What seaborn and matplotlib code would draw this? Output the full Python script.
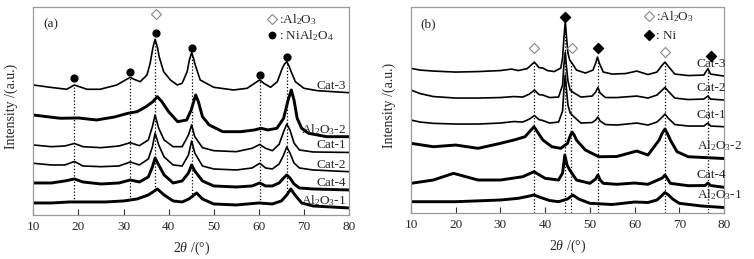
import numpy as np
import pandas as pd
import matplotlib
matplotlib.use("Agg")
import matplotlib.pyplot as plt
from matplotlib.lines import Line2D
import seaborn as sns

sns.set_theme(style="white")
plt.rcParams["font.family"] = ["Liberation Serif", "DejaVu Sans"]
plt.rcParams["mathtext.fontset"] = "custom"
plt.rcParams["mathtext.rm"] = "Liberation Serif"
plt.rcParams["mathtext.it"] = "Liberation Serif:italic"
plt.rcParams["mathtext.bf"] = "Liberation Serif:bold"

# ---------------- panel (a): calcined samples ----------------
a_cat3_tt = [10, 13.7, 17.4, 19.1, 21.9, 24.8, 28.5, 30.7, 31.5, 32.3, 33.7, 35.2, 35.9, 36.5, 37.0, 37.5,
             37.9, 38.9, 40.4, 41.9, 43, 44.1, 44.6, 45.1, 45.5, 45.9, 47, 50, 54.4, 57.4, 59.6, 60.2, 61.1,
             62.6, 64.1, 65.2, 65.7, 66.2, 66.7, 67.1, 68.1, 70, 73, 80]
a_cat3_i = [130, 127.7, 125.7, 130, 125.7, 125.7, 130, 135.7, 137.7, 135.7, 133.3, 140, 151.7, 167, 175.7, 168,
            158.3, 143.3, 135, 130, 131.7, 143.3, 155, 162.3, 157, 150, 135, 127.7, 125, 126.7, 133.3, 135, 131.7,
            127.7, 133.3, 146.7, 151, 153.3, 149, 144, 133.3, 126.7, 124.3, 122.3]

a_al2_tt = [10, 13, 16, 20, 24, 28, 31, 33, 35, 36.5, 37.5, 38.5, 40, 42, 44, 45, 46, 46.6, 47.5, 49, 52, 56,
            59, 60.5, 62, 64, 65.5, 66.5, 67.2, 67.8, 68.5, 69.5, 71, 75, 80]
a_al2_i = [100, 98.3, 96.7, 97, 95, 98, 101.7, 103.3, 108.3, 113.3, 118.3, 113.3, 103.3, 93.3, 95, 105, 120,
           113.3, 98.3, 90, 83.3, 83.3, 85, 86.7, 85, 86.7, 96.7, 115, 125, 115, 96.7, 86.7, 81.7, 78.3, 78.3]

a_cat_tt = [10, 14, 17, 19.1, 21, 25, 29, 31.5, 33.5, 35.5, 36.4, 37.0, 37.8, 39, 41, 43, 44.4, 45.1, 45.8,
            47.5, 50, 55, 58.5, 60.2, 61.5, 63, 64.5, 65.5, 66.2, 66.9, 67.8, 69, 72, 80]
a_cat1_i = [70, 68.3, 69, 71.5, 68.3, 67.3, 69, 72.3, 69.3, 75, 88.3, 100, 86.7, 75, 68.3, 68.3, 80, 90, 78.3,
            67.3, 64.3, 63.3, 66.7, 70.5, 66.7, 64.3, 70.7, 83.3, 91, 85, 72, 65, 63, 62.5]
a_cat2_i = [51.7, 50, 50, 53.5, 49, 48.3, 49, 53, 50, 56, 68, 82, 70, 58, 50, 49, 60, 74, 62,
            49, 46, 45, 47, 51.7, 47, 46, 51, 60, 68, 62, 52, 47, 45, 43.3]
a_cat4_i = [32, 32, 34, 36, 33, 31, 32, 35, 33, 38, 48, 57, 50, 40, 32, 34, 42, 50, 44,
            34, 29, 28, 29, 32, 29, 29, 32, 37, 40, 37, 31, 27, 26, 25]

a_al1_tt = [10, 14, 18, 22, 26, 30, 33, 35.5, 37.5, 39, 41, 43, 44.5, 46.2, 47.5, 50, 55, 60, 63, 65, 66.2,
            67.1, 68, 69.5, 72, 80]
a_al1_i = [12, 12, 13, 13, 13, 14, 16, 20, 26, 20, 14, 13, 16, 22, 16, 11, 10, 12, 11, 14, 20, 26, 20, 12, 9, 7]

a_spinel_tt = [19.1, 31.5, 37.1, 45.1, 60.2, 66.2]
a_spinel_h = [137, 142.5, 181.7, 166.5, 139.5, 158]
a_alumina_tt = [37.3]
a_alumina_h = [201]
a_lines = [19.1, 31.5, 37.0, 45.1, 60.2, 66.2]

# ---------------- panel (b): reduced samples ----------------
b_cat3_tt = [10, 12, 15, 20, 25, 30, 32.5, 34, 36, 37.6, 38.6, 39.5, 40.5, 42, 43.5, 43.9, 44.2, 44.5, 44.8,
             45.1, 45.5, 46, 47, 49, 50.7, 51.3, 51.7, 52.1, 53, 55, 58, 60.5, 63, 65, 66.2, 66.8, 67.5, 69,
             72, 75.5, 76.4, 77, 80]
b_cat3_i = [144.7, 143, 142, 141, 141.5, 142.5, 144, 142.5, 144.5, 151, 145.5, 145, 142.5, 141.5, 145, 155,
            175, 192, 175, 160, 153, 150, 143, 140, 143, 150, 156, 150, 141, 139, 139.5, 142, 138.5, 141, 148,
            151, 147, 139, 137.5, 138, 144.5, 139, 137]

b_cat_tt = [10, 12, 15, 20, 25, 30, 33, 35, 36.5, 37.6, 38.6, 39.5, 41, 43, 43.9, 44.2, 44.5, 44.8, 45.1,
            45.6, 46.5, 48, 50.5, 51.3, 51.8, 52.3, 53.5, 56, 60.5, 63, 65, 66.2, 66.8, 67.5, 69, 72, 75.5,
            76.4, 77, 80]
b_cat2_i = [123, 119.5, 116.5, 115, 115, 115.5, 116.5, 116, 119, 123, 118.5, 118, 115.5, 116, 128, 148, 161,
            145, 132, 123, 120, 116, 117, 121, 125.5, 120, 115.5, 115.5, 117, 115, 118, 123, 125.7, 122, 115,
            113.5, 114, 117, 114, 113]
b_cat1_i = [93, 91, 89.7, 89, 89, 90, 91.5, 91, 94, 97.5, 93.5, 92.5, 90, 91, 102, 124, 138, 122, 108, 100,
            96, 90, 90.5, 93, 96, 92, 88.5, 88, 90, 88, 91, 96, 99, 95, 88.5, 87, 87, 90, 87, 86.3]

b_al2_tt = [10, 15, 20, 25, 30, 33, 35.5, 37.5, 39.5, 41.5, 43.5, 45, 45.5, 46, 46.5, 47, 49, 52, 56, 60.5,
            63, 65.5, 66.2, 66.8, 67.4, 68, 69.5, 72, 80]
b_al2_i = [69.7, 66.3, 68, 64.7, 69.7, 73, 76.3, 86.3, 73, 66.3, 64.7, 69.7, 76, 81, 78, 73, 63, 56.3, 56.5,
           62, 58, 73, 80, 84, 79, 73, 61.3, 56.3, 54.5]

b_cat4_tt = [10, 15, 19.5, 25, 30, 35, 37.5, 40, 43, 43.9, 44.4, 44.9, 45.5, 47, 50, 51.3, 51.8, 52.3, 53,
             56, 60, 63, 66.2, 66.8, 67.4, 68, 72, 75.8, 76.4, 77, 80]
b_cat4_i = [29.7, 33, 39.7, 33, 33, 36.3, 41.3, 34.7, 33, 40, 58, 48, 43, 33, 29.7, 34, 38, 33, 29.7,
            28.7, 30, 28.7, 35, 38, 34, 29.7, 27.3, 27.5, 30, 27.5, 25.7]

b_al1_tt = [10, 20, 30, 34, 36, 37.5, 39, 41, 43, 45, 46.2, 47.5, 50, 55, 60, 63, 65, 66, 66.8, 67.6, 68.5,
            70, 75, 80]
b_al1_i = [11.3, 11.3, 13, 14.7, 16.5, 18, 15.5, 12.5, 11.3, 14, 18, 14, 9.7, 8.5, 11, 10.5, 13, 17, 20.5,
           18, 14, 9.7, 7, 5.5]

b_ni_tt = [44.5, 51.8, 77.2]
b_ni_h = [196.3, 165.3, 157]
b_alumina_tt = [37.5, 45.9, 66.9]
b_alumina_h = [164.7, 164.7, 161.3]
b_lines = [37.6, 44.5, 45.8, 51.8, 66.8, 76.4]

# (name, 2theta, intensity, noisy?)
traces_a = [("Cat-3", a_cat3_tt, a_cat3_i, False),
            ("Al$_2$O$_3$-2", a_al2_tt, a_al2_i, True),
            ("Cat-1", a_cat_tt, a_cat1_i, False),
            ("Cat-2", a_cat_tt, a_cat2_i, False),
            ("Cat-4", a_cat_tt, a_cat4_i, True),
            ("Al$_2$O$_3$-1", a_al1_tt, a_al1_i, True)]
traces_b = [("Cat-3", b_cat3_tt, b_cat3_i, False),
            ("Cat-2", b_cat_tt, b_cat2_i, False),
            ("Cat-1", b_cat_tt, b_cat1_i, False),
            ("Al$_2$O$_3$-2", b_al2_tt, b_al2_i, True),
            ("Cat-4", b_cat4_tt, b_cat4_i, True),
            ("Al$_2$O$_3$-1", b_al1_tt, b_al1_i, True)]

fig = plt.figure(figsize=(7.54, 2.59), dpi=100)
ax_a = fig.add_axes([0.0442, 0.170, 0.4187, 0.803])
ax_b = fig.add_axes([0.5451, 0.1776, 0.4151, 0.795])


def draw_traces(ax, traces, label_x, label_ha, label_off):
    for name, tt, inten, noisy in traces:
        df = pd.DataFrame({"tt": tt, "I": inten})
        sns.lineplot(data=df, x="tt", y="I", ax=ax, color="black",
                     linewidth=2.1 if noisy else 1.2, estimator=None, sort=False)
        ax.annotate(name, xy=(label_x, np.interp(label_x, tt, inten)), xytext=(0, label_off),
                    textcoords="offset points", ha=label_ha, va="center", fontsize=9.5)


draw_traces(ax_a, traces_a, 79.3, "right", 5)
draw_traces(ax_b, traces_b, 73.9, "left", 8)

# dotted reference lines
top_a, bot_a = traces_a[0], traces_a[-1]
ax_a.vlines(a_lines, np.interp(a_lines, bot_a[1], bot_a[2]), np.interp(a_lines, top_a[1], top_a[2]),
            colors="black", linestyles=(0, (1, 1.6)), linewidth=0.9, zorder=0)
top_b = traces_b[0]
ax_b.vlines(b_lines, 0, np.interp(b_lines, top_b[1], top_b[2]),
            colors="black", linestyles=(0, (1, 1.6)), linewidth=0.9, zorder=0)

# phase markers
ax_a.scatter(a_spinel_tt, a_spinel_h, marker="o", s=24, color="black", zorder=3)
ax_a.scatter(a_alumina_tt, a_alumina_h, marker="D", s=26, facecolor="white", edgecolor="#888888",
             linewidth=0.8, zorder=3)
ax_b.scatter(b_ni_tt, b_ni_h, marker="D", s=26, color="black", zorder=3)
ax_b.scatter(b_alumina_tt, b_alumina_h, marker="D", s=26, facecolor="white", edgecolor="#888888",
             linewidth=0.8, zorder=3)

h_al = Line2D([], [], ls="none", marker="D", ms=4.8, mfc="white", mec="#888888", mew=0.8)
h_sp = Line2D([], [], ls="none", marker="o", ms=4.6, mfc="black", mec="black")
h_ni = Line2D([], [], ls="none", marker="D", ms=4.8, mfc="black", mec="black")
ax_a.legend([h_al, h_sp], [":Al$_2$O$_3$", ": NiAl$_2$O$_4$"], loc="upper left",
            bbox_to_anchor=(0.739, 0.975), frameon=False, fontsize=9.5, handlelength=0.8,
            handletextpad=0.1, labelspacing=0.1, borderpad=0, borderaxespad=0)
ax_b.legend([h_al, h_ni], [":Al$_2$O$_3$", ": Ni"], loc="upper left",
            bbox_to_anchor=(0.745, 0.99), frameon=False, fontsize=9.5, handlelength=0.8,
            handletextpad=0.1, labelspacing=0.45, borderpad=0, borderaxespad=0)

for ax, ylim, tag in [(ax_a, 208, "(a)"), (ax_b, 206, "(b)")]:
    ax.set_xlim(10, 80)
    ax.set_ylim(0, ylim)
    ax.set_xticks(range(10, 81, 10))
    ax.set_yticks([])
    ax.tick_params(axis="x", direction="in", length=4, width=0.8, color="#333333",
                   labelsize=9.5, pad=4.5, bottom=True, top=False)
    for sp in ax.spines.values():
        sp.set_color("#999999")
        sp.set_linewidth(0.9)
    ax.set_xlabel(r"$\mathit{2\theta}$ /(°)", fontsize=10)
    ax.set_ylabel("Intensity /(a.u.)", fontsize=10)
    ax.xaxis.set_label_coords(0.5, -0.12)
    ax.yaxis.set_label_coords(-0.048, 0.52)
    ax.text(0.031, 0.918, tag, transform=ax.transAxes, ha="left", va="center", fontsize=9.5)

fig.savefig("out.png", dpi=100)
